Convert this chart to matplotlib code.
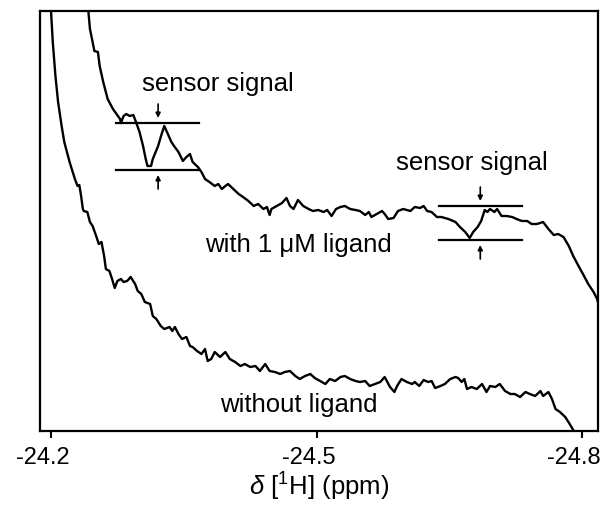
import matplotlib
matplotlib.use("Agg")
import matplotlib.pyplot as plt
import matplotlib.transforms as mtransforms
import numpy as np

plt.rcParams["font.family"] = ["Liberation Sans", "DejaVu Sans"]
plt.rcParams["mathtext.fontset"] = "custom"
plt.rcParams["mathtext.rm"] = "Liberation Sans"
plt.rcParams["mathtext.it"] = "Liberation Sans:italic"

# 1H shift axis (ppm) and intensity (arbitrary units) of the two spectra
shift_with = [
    -24.241, -24.244, -24.247, -24.249, -24.253, -24.255, -24.259, -24.264, -24.270, -24.278,
    -24.279, -24.282, -24.285, -24.289, -24.293, -24.296, -24.300, -24.304, -24.307, -24.309,
    -24.313, -24.315, -24.321, -24.325, -24.328, -24.332, -24.336, -24.339, -24.344, -24.349,
    -24.353, -24.357, -24.360, -24.366, -24.370, -24.374, -24.379, -24.385, -24.389, -24.393,
    -24.397, -24.400, -24.406, -24.412, -24.417, -24.423, -24.429, -24.434, -24.440, -24.444,
    -24.447, -24.449, -24.455, -24.461, -24.466, -24.470, -24.474, -24.479, -24.485, -24.491,
    -24.496, -24.502, -24.508, -24.512, -24.517, -24.522, -24.527, -24.532, -24.538, -24.544,
    -24.549, -24.555, -24.559, -24.562, -24.568, -24.574, -24.577, -24.581, -24.587, -24.592,
    -24.598, -24.606, -24.611, -24.617, -24.621, -24.625, -24.630, -24.636, -24.641, -24.649,
    -24.657, -24.662, -24.668, -24.673, -24.677, -24.682, -24.686, -24.690, -24.693, -24.696,
    -24.701, -24.704, -24.709, -24.715, -24.721, -24.726, -24.732, -24.738, -24.743, -24.749,
    -24.756, -24.762, -24.768, -24.773, -24.779, -24.785, -24.790, -24.796, -24.801, -24.807,
    -24.813, -24.817, -24.820,
]
intensity_with = [
    432, 402, 389, 380, 379, 365, 349, 332, 322, 312,
    308, 315, 317, 315, 316, 309, 299, 285, 272, 265,
    265, 272, 285, 297, 305, 297, 289, 285, 279, 270,
    274, 277, 269, 264, 259, 252, 249, 245, 247, 242,
    245, 247, 242, 237, 234, 230, 225, 227, 222, 224,
    216, 222, 225, 228, 233, 225, 222, 231, 225, 222,
    220, 221, 219, 221, 215, 222, 224, 225, 222, 221,
    220, 216, 219, 214, 217, 220, 217, 212, 213, 220,
    222, 220, 224, 223, 225, 220, 219, 214, 214, 212,
    209, 204, 199, 193, 199, 204, 210, 221, 219, 222,
    219, 222, 215, 215, 214, 212, 210, 210, 207, 207,
    209, 202, 196, 197, 194, 185, 175, 165, 157, 147,
    139, 132, 122,
]

shift_without = [
    -24.199, -24.200, -24.202, -24.205, -24.208, -24.212, -24.215, -24.221, -24.227, -24.230,
    -24.232, -24.234, -24.236, -24.237, -24.241, -24.244, -24.247, -24.251, -24.254, -24.257,
    -24.260, -24.262, -24.266, -24.269, -24.272, -24.275, -24.279, -24.282, -24.286, -24.290,
    -24.295, -24.298, -24.302, -24.306, -24.312, -24.315, -24.319, -24.324, -24.328, -24.334,
    -24.337, -24.340, -24.344, -24.348, -24.353, -24.357, -24.360, -24.365, -24.370, -24.374,
    -24.377, -24.381, -24.385, -24.391, -24.397, -24.402, -24.408, -24.414, -24.419, -24.425,
    -24.431, -24.436, -24.442, -24.447, -24.453, -24.459, -24.464, -24.470, -24.476, -24.481,
    -24.487, -24.493, -24.498, -24.504, -24.510, -24.515, -24.521, -24.527, -24.532, -24.538,
    -24.544, -24.549, -24.555, -24.560, -24.566, -24.572, -24.577, -24.583, -24.588, -24.591,
    -24.596, -24.602, -24.608, -24.611, -24.616, -24.621, -24.626, -24.630, -24.634, -24.640,
    -24.645, -24.651, -24.657, -24.660, -24.664, -24.667, -24.670, -24.675, -24.681, -24.687,
    -24.692, -24.696, -24.702, -24.707, -24.713, -24.719, -24.724, -24.730, -24.736, -24.741,
    -24.747, -24.753, -24.756, -24.762, -24.766, -24.770, -24.775, -24.781, -24.786, -24.790,
    -24.793,
]
intensity_without = [
    427, 420, 389, 355, 329, 305, 289, 269, 252, 245,
    246, 235, 222, 220, 219, 209, 205, 195, 187, 189,
    175, 162, 160, 152, 143, 150, 152, 149, 150, 154,
    147, 140, 137, 129, 127, 115, 112, 105, 102, 104,
    100, 104, 97, 92, 94, 85, 84, 80, 77, 82,
    70, 72, 79, 74, 79, 72, 69, 65, 67, 64,
    65, 60, 67, 60, 59, 57, 59, 60, 55, 52,
    55, 57, 53, 50, 47, 52, 50, 54, 55, 52,
    50, 49, 50, 45, 47, 49, 54, 44, 39, 45,
    52, 49, 47, 49, 45, 51, 49, 50, 43, 45,
    47, 52, 54, 53, 49, 52, 42, 44, 42, 47,
    39, 45, 44, 47, 40, 37, 37, 34, 39, 37,
    35, 40, 35, 39, 32, 22, 19, 14, 7, 1,
    -8,
]

tick_values = [-24.2, -24.5, -24.8]
tick_labels = ["-24.2", "-24.5", "-24.8"]

# sensor-signal markers: (left, right) shift span, (upper, lower) intensity levels, arrow shift
sensor_spans = [(-24.273, -24.367), (-24.638, -24.732)]
sensor_levels = [(308, 261), (225, 191)]
sensor_arrow_x = [-24.321, -24.685]

fig = plt.figure(figsize=(6.05, 5.06), dpi=100)
ax = fig.add_axes([39.5 / 605, 1 - 432 / 506, (598 - 39.5) / 605, (432 - 12) / 506])

ax.plot(shift_with, intensity_with, color="black", lw=1.7, solid_joinstyle="round")
ax.plot(shift_without, intensity_without, color="black", lw=1.7, solid_joinstyle="round")

for (x0, x1), (yu, yl), xa in zip(sensor_spans, sensor_levels, sensor_arrow_x):
    ax.plot([x0, x1], [yu, yu], color="black", lw=1.6)
    ax.plot([x0, x1], [yl, yl], color="black", lw=1.6)
    arrow = dict(arrowstyle="-|>", color="black", lw=1.2, mutation_scale=7,
                 shrinkA=0, shrinkB=0)
    ax.annotate("", xy=(xa, yu + 5), xytext=(xa, yu + 19), arrowprops=arrow)
    ax.annotate("", xy=(xa, yl - 5), xytext=(xa, yl - 19), arrowprops=arrow)

txt = dict(fontsize=18.5, ha="center", va="center")
ax.text(-24.389, 348, "sensor signal", **txt)
ax.text(-24.675, 269, "sensor signal", **txt)
ax.text(-24.479, 187, "with 1 \u03bcM ligand", **txt)
ax.text(-24.480, 27, "without ligand", **txt)

ax.set_xlim(-24.187, -24.818)
ax.set_ylim(0, 420)
ax.set_yticks([])
ax.set_xticks(tick_values)
ax.set_xticklabels(tick_labels)
ax.tick_params(axis="x", direction="out", length=5, width=1.5, labelsize=17, pad=6)
for sp in ax.spines.values():
    sp.set_linewidth(1.6)

shift = mtransforms.ScaledTranslation(-8 / 100, 0, fig.dpi_scale_trans)
for lab in ax.get_xticklabels():
    lab.set_transform(lab.get_transform() + shift)

ax.set_xlabel(r"$\mathit{\delta}$ [$^{\mathrm{1}}$H] (ppm)", fontsize=18.5, labelpad=1)

fig.savefig("out.png", dpi=100)
